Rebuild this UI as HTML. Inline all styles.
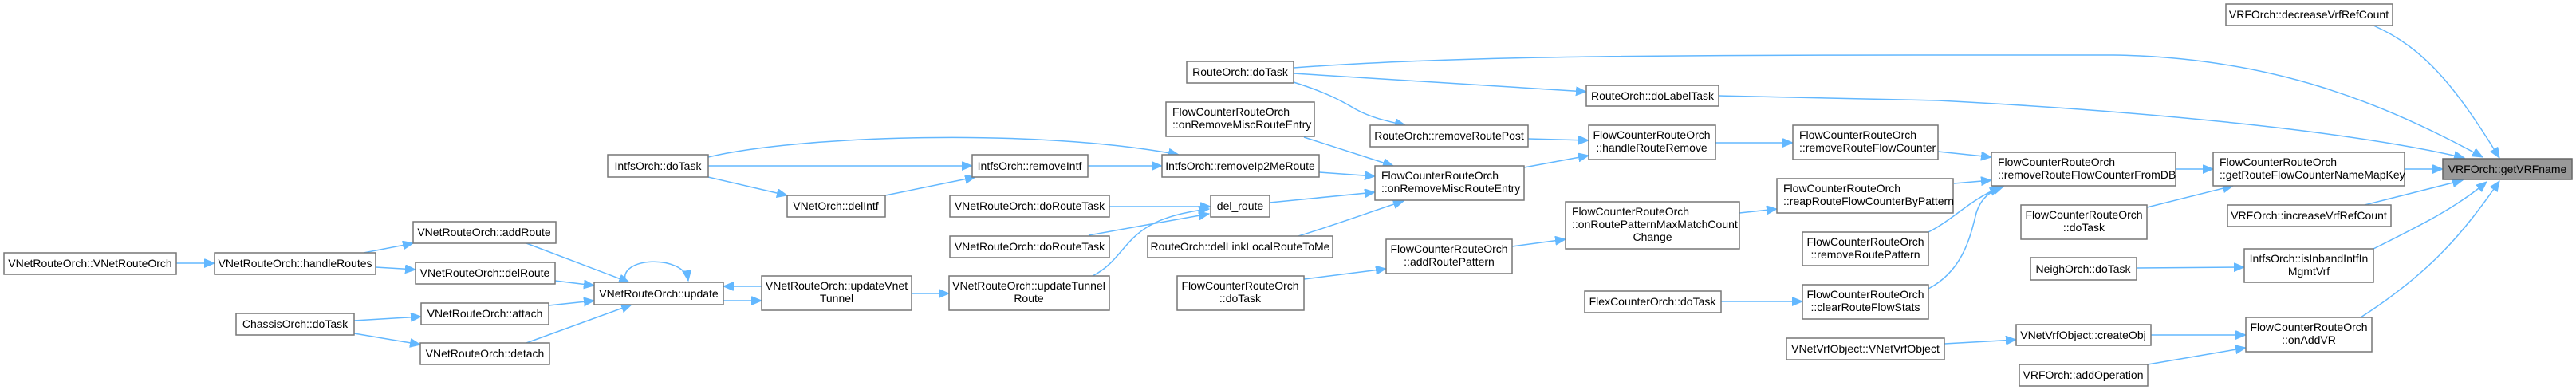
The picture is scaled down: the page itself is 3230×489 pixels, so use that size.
<!DOCTYPE html>
<html><head><meta charset="utf-8"><style>
html,body{margin:0;padding:0;background:#fff;}
svg{display:block;}
text{font-family:"Liberation Sans",Arial,sans-serif;font-size:14px;fill:#000;}
rect{fill:#fff;stroke:#777;stroke-width:1.5;}
path{fill:none;stroke:#63b8ff;stroke-width:1.5;}
</style></head><body>
<svg width="3230" height="489" viewBox="0 0 3230 489" xmlns="http://www.w3.org/2000/svg">
<defs><marker id="a" markerUnits="userSpaceOnUse" markerWidth="14" markerHeight="12" refX="13" refY="5.5" orient="auto"><path d="M0,0 L13,5.5 L0,11 z" style="fill:#63b8ff;stroke:#63b8ff;stroke-width:1"/></marker></defs>
<g marker-end="url(#a)">
<path d="M221,330 L269,330"/>
<path d="M456,317 L518,305"/>
<path d="M471,335 L521,338"/>
<path d="M660,305 L789,354"/>
<path d="M696,352 L745,358"/>
<path d="M688,383 L745,377"/>
<path d="M660,430 L792,382"/>
<path d="M444,402 L528,397"/>
<path d="M444,418 L527,432"/>
<path d="M785,354 C772,322 858,318 863,352"/>
<path d="M955,359 L907,359"/>
<path d="M907,377 L955,377"/>
<path d="M1143,368 L1190,368"/>
<path d="M1370,346 C1420,320 1405,275 1516,262"/>
<path d="M1391,259 L1518,259"/>
<path d="M1365,295 L1516,268"/>
<path d="M888,208 L1219,208"/>
<path d="M888,222 L987,245"/>
<path d="M1110,245 L1223,222"/>
<path d="M888,197 C1000,170 1300,160 1478,194"/>
<path d="M1364,208 L1457,208"/>
<path d="M1654,216 L1724,221"/>
<path d="M1592,254 L1724,241"/>
<path d="M1635,172 L1747,208"/>
<path d="M1628,296 C1680,280 1720,265 1760,252"/>
<path d="M1622,103 C1660,115 1680,125 1700,137 C1720,148 1740,152 1762,157"/>
<path d="M1622,92 L1989,115"/>
<path d="M1622,85 C1800,72 2000,69 2400,69 L2650,69 C2850,72 2990,130 3113,197"/>
<path d="M2155,120 L2430,126 C2700,140 2950,165 3090,198"/>
<path d="M1916,174 L1992,176"/>
<path d="M1911,210 L1992,195"/>
<path d="M2151,179 L2248,179"/>
<path d="M2430,190 L2497,197"/>
<path d="M1635,350 L1738,337"/>
<path d="M1896,309 L1963,300"/>
<path d="M2181,267 L2228,262"/>
<path d="M2450,230 L2497,226"/>
<path d="M2418,291 C2450,275 2470,250 2508,235"/>
<path d="M2418,362 C2460,340 2470,300 2478,267 C2485,245 2500,238 2512,234"/>
<path d="M2158,378 L2260,378"/>
<path d="M2728,212 L2775,212"/>
<path d="M2692,260 L2800,233"/>
<path d="M3015,212 L3063,212"/>
<path d="M2976,32 C3040,60 3080,110 3134,198"/>
<path d="M2965,257 L3088,226"/>
<path d="M2976,312 C3040,280 3080,260 3118,228"/>
<path d="M2960,398 C3050,340 3090,290 3134,227"/>
<path d="M2679,336 L2814,335"/>
<path d="M2438,431 L2528,426"/>
<path d="M2697,420 L2816,420"/>
<path d="M2693,457 L2816,436"/>
</g>
<g text-anchor="middle">
<rect x="5" y="317" width="216" height="27"/><text x="113" y="335">VNetRouteOrch::VNetRouteOrch</text>
<rect x="269" y="317" width="202" height="27"/><text x="370" y="335">VNetRouteOrch::handleRoutes</text>
<rect x="518" y="278" width="179" height="27"/><text x="607" y="296">VNetRouteOrch::addRoute</text>
<rect x="521" y="329" width="175" height="27"/><text x="608" y="347">VNetRouteOrch::delRoute</text>
<rect x="296" y="393" width="148" height="27"/><text x="370" y="411">ChassisOrch::doTask</text>
<rect x="528" y="380" width="160" height="27"/><text x="608" y="398">VNetRouteOrch::attach</text>
<rect x="527" y="430" width="162" height="27"/><text x="608" y="448">VNetRouteOrch::detach</text>
<rect x="745" y="354" width="162" height="28"/><text x="826" y="373">VNetRouteOrch::update</text>
<rect x="762" y="194" width="126" height="28"/><text x="825" y="213">IntfsOrch::doTask</text>
<rect x="955" y="346" width="188" height="43"/><text x="1049" y="363">VNetRouteOrch::updateVnet</text><text x="1049" y="379">Tunnel</text>
<rect x="987" y="245" width="123" height="27"/><text x="1048" y="263">VNetOrch::delIntf</text>
<rect x="1219" y="194" width="145" height="28"/><text x="1291" y="213">IntfsOrch::removeIntf</text>
<rect x="1191" y="245" width="200" height="27"/><text x="1291" y="263">VNetRouteOrch::doRouteTask</text>
<rect x="1191" y="296" width="200" height="27"/><text x="1291" y="314">VNetRouteOrch::doRouteTask</text>
<rect x="1190" y="346" width="201" height="43"/><text x="1290" y="363">VNetRouteOrch::updateTunnel</text><text x="1290" y="379">Route</text>
<rect x="1488" y="77" width="134" height="27"/><text x="1555" y="95">RouteOrch::doTask</text>
<rect x="1462" y="128" width="186" height="43"/><text x="1470" y="145" text-anchor="start">FlowCounterRouteOrch</text><text x="1470" y="161" text-anchor="start">::onRemoveMiscRouteEntry</text>
<rect x="1457" y="194" width="197" height="28"/><text x="1555" y="213">IntfsOrch::removeIp2MeRoute</text>
<rect x="1518" y="245" width="74" height="27"/><text x="1555" y="263">del_route</text>
<rect x="1439" y="296" width="232" height="27"/><text x="1555" y="314">RouteOrch::delLinkLocalRouteToMe</text>
<rect x="1476" y="346" width="159" height="43"/><text x="1555" y="363">FlowCounterRouteOrch</text><text x="1555" y="379">::doTask</text>
<rect x="1718" y="157" width="198" height="27"/><text x="1817" y="175">RouteOrch::removeRoutePost</text>
<rect x="1724" y="208" width="187" height="43"/><text x="1732" y="225" text-anchor="start">FlowCounterRouteOrch</text><text x="1732" y="241" text-anchor="start">::onRemoveMiscRouteEntry</text>
<rect x="1738" y="300" width="158" height="43"/><text x="1817" y="317">FlowCounterRouteOrch</text><text x="1817" y="333">::addRoutePattern</text>
<rect x="1989" y="107" width="166" height="26"/><text x="2072" y="125">RouteOrch::doLabelTask</text>
<rect x="1992" y="157" width="159" height="43"/><text x="2071" y="174">FlowCounterRouteOrch</text><text x="2071" y="190">::handleRouteRemove</text>
<rect x="1963" y="253" width="218" height="59"/><text x="1971" y="270" text-anchor="start">FlowCounterRouteOrch</text><text x="1971" y="286" text-anchor="start">::onRoutePatternMaxMatchCount</text><text x="2072" y="302">Change</text>
<rect x="2248" y="157" width="182" height="43"/><text x="2256" y="174" text-anchor="start">FlowCounterRouteOrch</text><text x="2256" y="190" text-anchor="start">::removeRouteFlowCounter</text>
<rect x="2228" y="224" width="221" height="43"/><text x="2236" y="241" text-anchor="start">FlowCounterRouteOrch</text><text x="2236" y="257" text-anchor="start">::reapRouteFlowCounterByPattern</text>
<rect x="2260" y="291" width="158" height="42"/><text x="2339" y="308">FlowCounterRouteOrch</text><text x="2339" y="324">::removeRoutePattern</text>
<rect x="1987" y="365" width="171" height="27"/><text x="2072" y="383">FlexCounterOrch::doTask</text>
<rect x="2260" y="357" width="158" height="43"/><text x="2339" y="374">FlowCounterRouteOrch</text><text x="2339" y="390">::clearRouteFlowStats</text>
<rect x="2240" y="424" width="198" height="27"/><text x="2339" y="442">VNetVrfObject::VNetVrfObject</text>
<rect x="2497" y="191" width="231" height="42"/><text x="2505" y="208" text-anchor="start">FlowCounterRouteOrch</text><text x="2505" y="224" text-anchor="start">::removeRouteFlowCounterFromDB</text>
<rect x="2775" y="191" width="240" height="42"/><text x="2783" y="208" text-anchor="start">FlowCounterRouteOrch</text><text x="2783" y="224" text-anchor="start">::getRouteFlowCounterNameMapKey</text>
<rect x="3063" y="199" width="162" height="26" style="fill:#999;stroke:#666"/><text x="3144" y="217">VRFOrch::getVRFname</text>
<rect x="2791" y="5" width="209" height="27"/><text x="2895" y="23">VRFOrch::decreaseVrfRefCount</text>
<rect x="2534" y="257" width="158" height="43"/><text x="2613" y="274">FlowCounterRouteOrch</text><text x="2613" y="290">::doTask</text>
<rect x="2793" y="257" width="205" height="27"/><text x="2895" y="275">VRFOrch::increaseVrfRefCount</text>
<rect x="2546" y="323" width="133" height="28"/><text x="2612" y="342">NeighOrch::doTask</text>
<rect x="2814" y="312" width="162" height="42"/><text x="2895" y="329">IntfsOrch::isInbandIntfIn</text><text x="2895" y="345">MgmtVrf</text>
<rect x="2528" y="407" width="169" height="26"/><text x="2612" y="425">VNetVrfObject::createObj</text>
<rect x="2816" y="398" width="158" height="43"/><text x="2895" y="415">FlowCounterRouteOrch</text><text x="2895" y="431">::onAddVR</text>
<rect x="2532" y="457" width="161" height="27"/><text x="2612" y="475">VRFOrch::addOperation</text>
</g>
</svg>
</body></html>
